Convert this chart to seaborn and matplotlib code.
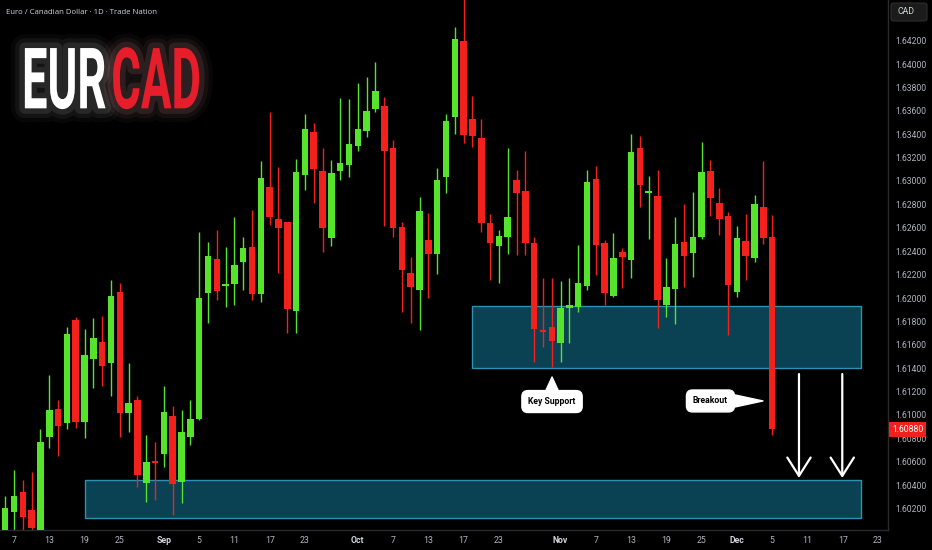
import matplotlib
matplotlib.use('Agg')
import matplotlib.pyplot as plt
import matplotlib.patheffects as pe
from matplotlib.text import Text
from matplotlib.path import Path
from matplotlib.colors import to_rgb
from matplotlib.font_manager import FontProperties
from matplotlib.textpath import text_to_path
from matplotlib.transforms import Affine2D, Bbox
from matplotlib.patches import Rectangle, FancyBboxPatch
import numpy as np
import pandas as pd
import seaborn as sns

# daily OHLC, EUR/CAD, 2025-08-06 .. 2025-12-05
open_ = [1.59980, 1.60171, 1.60342, 1.60188, 1.60020, 1.60812, 1.61051, 1.60931, 1.61812, 1.60940,
         1.61479, 1.61624, 1.61444, 1.62051, 1.61017, 1.61128, 1.60418, 1.60606, 1.60666, 1.60991,
         1.60427, 1.60812, 1.60966, 1.62043, 1.62333, 1.62103, 1.62120, 1.62308, 1.62436, 1.62034,
         1.62949, 1.62675, 1.62650, 1.61889, 1.63051, 1.63419, 1.63086, 1.62513, 1.63086, 1.63137,
         1.63300, 1.63427, 1.63615, 1.63641, 1.63282, 1.62607, 1.62214, 1.62068, 1.62496, 1.62376,
         1.63034, 1.63547, 1.64197, 1.63530, 1.63368, 1.62641, 1.62444, 1.62521, 1.63009, 1.62915,
         1.62470, 1.61726, 1.61752, 1.61615, 1.61915, 1.61923, 1.62103, 1.63017, 1.62470, 1.62017,
         1.62393, 1.62325, 1.63282, 1.62898, 1.62872, 1.61940, 1.62077, 1.62479, 1.62385, 1.62521,
         1.63086, 1.62812, 1.62701, 1.62051, 1.62487, 1.62342, 1.62778, 1.62521]
high = [1.60308, 1.60530, 1.60444, 1.60513, 1.60880, 1.61342, 1.61128, 1.61752, 1.61838, 1.61735,
        1.61829, 1.61846, 1.62154, 1.62128, 1.61444, 1.61162, 1.60829, 1.60769, 1.61248, 1.61077,
        1.61042, 1.61128, 1.62564, 1.62479, 1.62581, 1.62436, 1.62692, 1.62521, 1.62752, 1.63171,
        1.63590, 1.63120, 1.62650, 1.63188, 1.63573, 1.63496, 1.63282, 1.63180, 1.63709, 1.63701,
        1.63838, 1.63889, 1.64017, 1.63718, 1.63351, 1.62650, 1.62350, 1.62863, 1.62727, 1.63111,
        1.63573, 1.64316, 1.64600, 1.63726, 1.63530, 1.62718, 1.62581, 1.63282, 1.63094, 1.63257,
        1.62521, 1.62171, 1.62171, 1.62145, 1.62171, 1.62453, 1.63094, 1.63128, 1.62496, 1.62556,
        1.62427, 1.63402, 1.63385, 1.63043, 1.63094, 1.62342, 1.62692, 1.62803, 1.62906, 1.63333,
        1.63180, 1.62940, 1.62735, 1.62616, 1.62718, 1.62880, 1.63171, 1.62709]
low = [1.59950, 1.59950, 1.59950, 1.59950, 1.59950, 1.60718, 1.60649, 1.60880, 1.60889, 1.60803,
       1.61231, 1.61248, 1.61162, 1.60812, 1.60854, 1.60384, 1.60256, 1.60273, 1.60555, 1.60145,
       1.60247, 1.60743, 1.60957, 1.61786, 1.61983, 1.61923, 1.61940, 1.62068, 1.61983, 1.61966,
       1.62624, 1.62214, 1.61701, 1.61701, 1.62923, 1.62812, 1.62393, 1.62444, 1.63009, 1.63034,
       1.63257, 1.63376, 1.63590, 1.62616, 1.62521, 1.61880, 1.61786, 1.61726, 1.62000, 1.62205,
       1.62898, 1.63402, 1.63325, 1.63291, 1.62564, 1.62154, 1.62128, 1.62376, 1.62368, 1.62368,
       1.61453, 1.61581, 1.61410, 1.61453, 1.61615, 1.61880, 1.62068, 1.62197, 1.61940, 1.62009,
       1.62085, 1.62171, 1.62778, 1.62504, 1.61744, 1.61838, 1.61778, 1.62094, 1.62180, 1.62504,
       1.62701, 1.62538, 1.61684, 1.62009, 1.62154, 1.62308, 1.62462, 1.60829]
close = [1.60205, 1.60308, 1.60128, 1.60034, 1.60769, 1.61042, 1.60906, 1.61692, 1.60940, 1.61513,
         1.61658, 1.61419, 1.62017, 1.61017, 1.61102, 1.60487, 1.60598, 1.60589, 1.61025, 1.60410,
         1.60854, 1.60966, 1.62000, 1.62359, 1.62060, 1.62120, 1.62282, 1.62427, 1.62034, 1.63026,
         1.62692, 1.62598, 1.61906, 1.63077, 1.63445, 1.63103, 1.62598, 1.63069, 1.63154, 1.63317,
         1.63445, 1.63598, 1.63769, 1.63257, 1.62598, 1.62239, 1.62094, 1.62744, 1.62376, 1.63009,
         1.63513, 1.64214, 1.63393, 1.63385, 1.62641, 1.62470, 1.62530, 1.62692, 1.62898, 1.62470,
         1.61735, 1.61709, 1.61632, 1.61915, 1.61940, 1.62128, 1.62992, 1.62453, 1.62043, 1.62342,
         1.62350, 1.63248, 1.62966, 1.62915, 1.61983, 1.62094, 1.62462, 1.62359, 1.62521, 1.63077,
         1.62855, 1.62675, 1.62111, 1.62513, 1.62359, 1.62803, 1.62513, 1.60880]

tick_dates = ['2025-08-07', '2025-08-13', '2025-08-19', '2025-08-25', '2025-09-01', '2025-09-05',
              '2025-09-11', '2025-09-17', '2025-09-23', '2025-10-01', '2025-10-07', '2025-10-13',
              '2025-10-17', '2025-10-23', '2025-11-03', '2025-11-07', '2025-11-13', '2025-11-19',
              '2025-11-25', '2025-12-01', '2025-12-05', '2025-12-11', '2025-12-17', '2025-12-23']
tick_labels = ['7', '13', '19', '25', 'Sep', '5', '11', '17', '23', 'Oct', '7', '13',
               '17', '23', 'Nov', '7', '13', '19', '25', 'Dec', '5', '11', '17', '23']
months = ['Sep', 'Oct', 'Nov', 'Dec']

support_zone = [1.61402, 1.61932]   # key support
target_zone = [1.60120, 1.60444]    # target below
last_price = 1.60880

GREEN = '#56e32c'
RED = '#f2211c'

sns.set_theme(style='dark', rc={'axes.facecolor': 'black', 'figure.facecolor': 'black',
                                'axes.edgecolor': '#2a2a2a'})
plt.rcParams['font.family'] = ['Roboto', 'DejaVu Sans']

days = pd.bdate_range('2025-08-06', '2025-12-31')
df = pd.DataFrame({'open': open_, 'high': high, 'low': low, 'close': close})
df['date'] = days[:len(df)]
df['x'] = np.arange(len(df))
df['up'] = df['close'] >= df['open']
df['color'] = np.where(df['up'], GREEN, RED)
df['bottom'] = df[['open', 'close']].min(axis=1)
df['body'] = (df['close'] - df['open']).abs().clip(lower=0.00008)

fig = plt.figure(figsize=(9.32, 5.5), dpi=100)
ax = fig.add_axes([0, 20 / 550, 888 / 932, 530 / 550])

# zones
for lo, hi, x0, x1 in [(support_zone[0], support_zone[1], 52.95, 97.08),
                       (target_zone[0], target_zone[1], 9.05, 97.08)]:
    ax.add_patch(Rectangle((x0, lo), x1 - x0, hi - lo, facecolor='#0a4254',
                           edgecolor='#2b92b5', lw=1.0, zorder=1))

# candles
ax.vlines(df['x'], df['low'], df['high'], colors=df['color'], lw=1.0, zorder=2)
ax.bar(df['x'], df['body'], bottom=df['bottom'], width=0.74, color=df['color'],
       edgecolor='none', zorder=3)

ax.set_xlim(1 - 14 / 8.816, 1 + 874 / 8.816)
ax.set_ylim(1.62 - 232 / 11700, 1.62 + 298 / 11700)

tick_pos = days.get_indexer(pd.to_datetime(tick_dates))
ax.set_xticks(tick_pos)
ax.set_xticklabels(tick_labels)
for lab in ax.get_xticklabels():
    if lab.get_text() in months:
        lab.set_fontweight('bold')
        lab.set_color('#d1d4dc')
    else:
        lab.set_color('#b2b5be')
ax.tick_params(axis='x', length=0, pad=4.5, labelsize=6.3)

yt = np.arange(1.602, 1.6425, 0.002)
ax.yaxis.tick_right()
ax.set_yticks(yt)
ax.set_yticklabels(['%.5f' % v for v in yt])
ax.tick_params(axis='y', length=0, pad=5.5, labelsize=6.2, labelcolor='#b2b5be')
ax.grid(False)
for s in ['top', 'left']:
    ax.spines[s].set_visible(False)
for s in ['right', 'bottom']:
    ax.spines[s].set_color('#2a2a2a')
    ax.spines[s].set_linewidth(1.0)

# last price tag
ax.text(1.0 + 4 / 888, last_price, '%.5f' % last_price, transform=ax.get_yaxis_transform(),
        ha='left', va='center', fontsize=6.2, color='white', zorder=6, clip_on=False,
        bbox=dict(boxstyle='square,pad=0.35', fc='#f0201c', ec='none'))

# call-outs
ax.annotate('Key Support', xy=(62.03, 1.61325), xytext=(62.03, 1.61115),
            ha='center', va='center', fontsize=6.2, fontweight='bold', color='black', zorder=7,
            bbox=dict(boxstyle='round,pad=0.75,rounding_size=0.7', fc='white', ec='white'),
            arrowprops=dict(arrowstyle='wedge,tail_width=1.4,shrink_factor=0.5',
                            fc='white', ec='white', shrinkA=0, shrinkB=0))
ax.annotate('Breakout', xy=(85.96, 1.61120), xytext=(80.0, 1.61120),
            ha='center', va='center', fontsize=6.2, fontweight='bold', color='black', zorder=7,
            bbox=dict(boxstyle='round,pad=0.75,rounding_size=0.7', fc='white', ec='white'),
            arrowprops=dict(arrowstyle='wedge,tail_width=1.4,shrink_factor=0.5',
                            fc='white', ec='white', shrinkA=0, shrinkB=0))

# target arrows
for xa in [90.04, 94.95]:
    ax.annotate('', xy=(xa, 1.60462), xytext=(xa, 1.61350), zorder=7,
                arrowprops=dict(arrowstyle='->,head_width=0.7,head_length=1.1',
                                color='white', lw=1.6, shrinkA=0, shrinkB=0))

# header text
fig.text(6 / 932, 1 - 12 / 550, 'Euro / Canadian Dollar · 1D · Trade Nation',
         fontsize=5.6, color='#d1d4dc', va='center', ha='left', family=['Open Sans', 'DejaVu Sans'])

fig.add_artist(FancyBboxPatch((891 / 932, 1 - 21 / 550), 36 / 932, 18 / 550,
                              boxstyle='round,pad=0,rounding_size=0.004',
                              transform=fig.transFigure, fc='#1b1b1b', ec='#2e2e2e', lw=0.8))
fig.text(897 / 932, 1 - 12 / 550, 'CAD', fontsize=6.3, color='#d1d4dc', va='center', ha='left')


# big EURCAD logo: one text, squeezed like a condensed face, two colours
def contours(path):
    v, c = path.vertices, path.codes
    starts = np.flatnonzero(c == Path.MOVETO)
    ends = list(starts[1:]) + [len(c)]
    return [Path(v[s:e], c[s:e]) for s, e in zip(starts, ends)]


class TwoToneSqueeze(pe.AbstractPathEffect):
    def __init__(self, split, styles, sx=1.0, gap=0.0):
        super().__init__()
        self.split = split
        self.styles = styles
        self.sx = sx
        self.gap = gap   # extra pixels between the two halves

    def draw_path(self, renderer, gc, tpath, affine, rgbFace=None):
        aff = Affine2D().scale(self.sx, 1.0) + affine
        groups = [[], []]
        for sub in contours(tpath):
            pts = sub.vertices[sub.codes != Path.CLOSEPOLY]
            groups[0 if pts[:, 0].mean() < self.split else 1].append(sub)
        for k, (parts, (face, effects)) in enumerate(zip(groups, self.styles)):
            if not parts:
                continue
            p = Path.make_compound_path(*parts)
            a = aff + Affine2D().translate(self.gap * k, 0)
            for eff in effects:
                eff.draw_path(renderer, gc, p, a, to_rgb(face))


class SqueezedText(Text):
    # report the squeezed box so the extent matches what is drawn
    def __init__(self, *args, squeeze=None, **kw):
        super().__init__(*args, **kw)
        self.squeeze = squeeze

    def natural_extent(self, renderer=None):
        return super().get_window_extent(renderer)

    def get_window_extent(self, renderer=None, dpi=None):
        bb = super().get_window_extent(renderer, dpi)
        w = bb.width * self.squeeze.sx + self.squeeze.gap
        return Bbox.from_extents(bb.x0, bb.y0, bb.x0 + w, bb.y1)


def glow(col):
    return [pe.Stroke(linewidth=20, foreground=col, alpha=0.035),
            pe.Stroke(linewidth=14, foreground=col, alpha=0.06),
            pe.Stroke(linewidth=8, foreground=col, alpha=0.1),
            pe.Normal()]


logo_fp = FontProperties(family=['Roboto', 'DejaVu Sans'], weight='bold', size=61)
ev, ec = text_to_path.get_text_path(logo_fp, 'EUR')
split_x = np.asarray(ev)[:, 0].max()

sq = TwoToneSqueeze(split_x, [('white', glow('#e0e0e0')), ('#e61d2b', glow('#ffb0b0'))], gap=5.0)
logo = SqueezedText(22 / 932, 1 - 108.3 / 550, 'EURCAD', squeeze=sq, fontproperties=logo_fp,
                    color='white', ha='left', va='baseline', transform=fig.transFigure)
logo.set_path_effects([sq])
fig.add_artist(logo)

fig.canvas.draw()
sq.sx = (201 - 22 - sq.gap) / logo.natural_extent(fig.canvas.get_renderer()).width

plt.savefig('out.png', dpi=100, facecolor='black')
